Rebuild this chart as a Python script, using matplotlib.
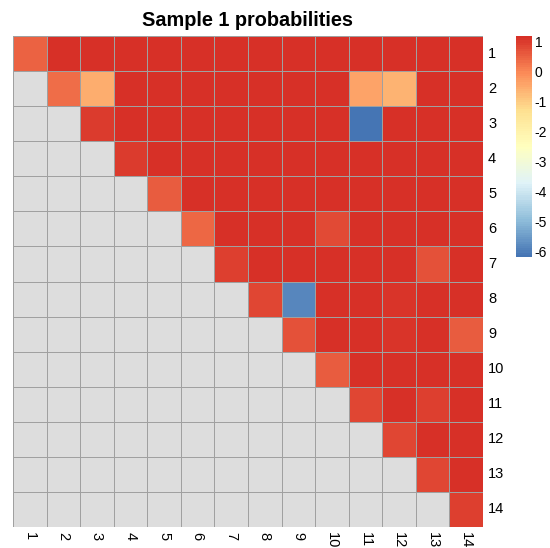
import numpy as np
import matplotlib
matplotlib.use("Agg")
import matplotlib.pyplot as plt
from matplotlib.colors import LinearSegmentedColormap, BoundaryNorm, ListedColormap
import matplotlib.colorbar as mcolorbar

plt.rcParams['font.family'] = ['Liberation Sans', 'DejaVu Sans']

labels = [str(i) for i in range(1, 15)]

# upper triangle values, row by row (row i starts at column i)
upper_rows = [
    [0.49, 1.2, 1.2, 1.2, 1.2, 1.2, 1.2, 1.2, 1.2, 1.2, 1.2, 1.2, 1.2, 1.2],
    [0.35, -0.55, 1.2, 1.2, 1.2, 1.2, 1.2, 1.2, 1.2, -0.38, -0.61, 1.2, 1.2],
    [1.02, 1.2, 1.2, 1.2, 1.2, 1.2, 1.2, 1.2, -6.2, 1.2, 1.2, 1.2],
    [1.0, 1.2, 1.2, 1.2, 1.2, 1.2, 1.2, 1.2, 1.2, 1.2, 1.2],
    [0.6, 1.2, 1.2, 1.2, 1.2, 1.2, 1.2, 1.2, 1.2, 1.2],
    [0.44, 1.2, 1.2, 1.2, 0.78, 1.2, 1.2, 1.2, 1.2],
    [0.96, 1.2, 1.2, 1.2, 1.2, 1.2, 0.74, 1.2],
    [0.85, -5.86, 1.2, 1.2, 1.08, 1.2, 1.2],
    [0.73, 1.2, 1.2, 1.07, 1.2, 0.6],
    [0.6, 1.2, 1.2, 1.2, 1.2],
    [0.84, 1.2, 0.96, 1.2],
    [0.9, 1.2, 1.2],
    [0.84, 1.2],
    [0.96],
]

n = len(labels)
mat = np.full((n, n), np.nan)
for i, row in enumerate(upper_rows):
    mat[i, i:] = row

vmin, vmax = np.nanmin(mat), np.nanmax(mat)

# pheatmap default palette: rev(RdYlBu, 7) -> 100 colours
base = LinearSegmentedColormap.from_list(
    "rdylbu_r", ["#4575B4", "#91BFDB", "#E0F3F8", "#FFFFBF", "#FEE090", "#FC8D59", "#D73027"])
cmap = ListedColormap(base(np.linspace(0, 1, 100)))
cmap.set_bad("#DDDDDD")
breaks = np.linspace(vmin, vmax, 101)
norm = BoundaryNorm(breaks, cmap.N)

W, H = 550, 548
fig = plt.figure(figsize=(W / 100, H / 100), dpi=100)

ax = fig.add_axes([13 / W, 1 - 527 / H, 470 / W, 491 / H])
ax.pcolormesh(np.ma.masked_invalid(mat), cmap=cmap, norm=norm,
              edgecolors="#A0A0A0", linewidth=0.7)
ax.set_xlim(0, n)
ax.set_ylim(n, 0)
ax.set_axis_off()

for i, lab in enumerate(labels):
    ax.text(n + 0.15, i + 0.5, lab, ha="left", va="center", fontsize=10.5)
    ax.text(i + 0.5, n + 0.15, lab, ha="center", va="top", rotation=270, fontsize=10.5)

fig.text(248 / W, 1 - 26 / H, "Sample 1 probabilities", ha="center", va="baseline",
         fontsize=14.3, fontweight="bold")

cax = fig.add_axes([516 / W, 1 - 257 / H, 16 / W, 221 / H])
cb = mcolorbar.ColorbarBase(cax, cmap=cmap, norm=norm, boundaries=breaks,
                            orientation="vertical")
cb.outline.set_visible(False)
cb.set_ticks(np.arange(-6, 2))
cb.set_ticklabels([str(t) for t in range(-6, 2)])
cax.minorticks_off()
cax.tick_params(which="both", length=0, labelsize=10, pad=2)

fig.savefig("out.png", dpi=100)
